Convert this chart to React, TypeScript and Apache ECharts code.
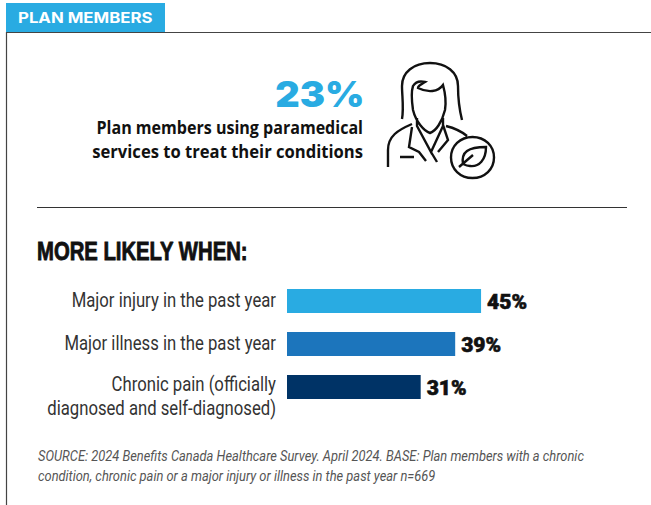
import React, { useEffect, useRef } from "react";
import * as echarts from "echarts";

const categories = [
  "Major injury in the past year",
  "Major illness in the past year",
  "Chronic pain (officially\ndiagnosed and self-diagnosed)",
];
const values = [45, 39, 31];
const barColors = ["#29abe2", "#1c75bc", "#003366"];
const tabLabel = "PLAN MEMBERS";
const headlineValue = "23%";
const headlineLines = ["Plan members using paramedical", "services to treat their conditions"];
const sectionHeading = "MORE LIKELY WHEN:";
const sourceLines = [
  "SOURCE: 2024 Benefits Canada Healthcare Survey. April 2024. BASE: Plan members with a chronic",
  "condition, chronic pain or a major injury or illness in the past year n=669",
];

// Outline icon of a health professional with a leaf badge
const personPath = [
  "M402 119 C404 108 402 96 402 86 C402 72 414 63 430 63 C446 63 458 72 458 86 C458 98 459 108 462 120",
  "M413 110 C412 103 411 92 413 86 C416 81 421 81 425 82 C420 85 418 86 418 88 C428 93 438 92 443 85 C446 96 446 104 445 110",
  "M413 110 C416 122 424 131 430 133 C436 131 442 122 445 110",
  "M417 118 L417 126 L431 152 L443 126 L443 118",
  "M412 124 C398 130 388 136 388 150 L388 167",
  "M412 127 L409 147 L419 152 L426 161",
  "M431 152 L437 162",
  "M443 125 L448 140 L438 152",
  "M446 126 C454 128 461 131 467 136",
  "M400 157 L414 157",
  "M451 157.5 C451 146 460 137 472.5 137 C485 137 494 146 494 157.5 C494 169 485 178 472.5 178 C460 178 451 169 451 157.5",
  "M463 164 C461 152 468 147 486 147 C486 160 479 167 470 166 C467 166 465 165 463 164",
  "M459 167 L473 155",
].join(" ");

echarts.graphic.registerShape("personIcon", echarts.graphic.extendPath(personPath, {}));

const GRID_TOP = 279.5;
const BAND = 43;

export default function App() {
  const ref = useRef<HTMLDivElement>(null);

  useEffect(() => {
    document.body.style.margin = "0";
    document.body.style.background = "#fff";
    const chart = echarts.init(ref.current!, undefined, { renderer: "svg" });

    // Category names are set as graphic texts so they can be narrowed horizontally
    const categoryTexts = categories.flatMap((label, i) => {
      const lines = label.split("\n");
      const centre = GRID_TOP + BAND * (i + 0.5);
      return lines.map((text, j) => ({
        type: "text",
        x: 276,
        y: lines.length > 1 ? centre - 3.5 + j * 24 : centre - 1.5,
        scaleX: 0.835,
        style: {
          text,
          align: "right",
          verticalAlign: "middle",
          fontFamily: "Roboto, sans-serif",
          fontSize: 20,
          fill: "#333333",
        },
      }));
    });

    chart.setOption({
      animation: false,
      backgroundColor: "#ffffff",
      grid: { left: 287, top: GRID_TOP, width: 345, height: BAND * categories.length },
      xAxis: { type: "value", min: 0, max: 80, show: false },
      yAxis: {
        type: "category",
        inverse: true,
        data: categories,
        axisLine: { show: false },
        axisTick: { show: false },
        axisLabel: { show: false },
      },
      series: [
        {
          type: "bar",
          barWidth: 24,
          data: values.map((value, i) => ({ value, itemStyle: { color: barColors[i] } })),
          label: {
            show: true,
            position: "right",
            distance: 6,
            offset: [0, 1],
            formatter: "{c}%",
            fontFamily: "Roboto, sans-serif",
            fontWeight: 900,
            fontSize: 21,
            color: "#111111",
            textBorderColor: "#111111",
            textBorderWidth: 0.6,
          },
        },
      ],
      graphic: [
        { type: "rect", shape: { x: 6, y: 3, width: 159, height: 29 }, style: { fill: "#29abe2" } },
        { type: "line", shape: { x1: 6, y1: 32.5, x2: 651, y2: 32.5 }, style: { stroke: "#444", lineWidth: 1.2 } },
        { type: "line", shape: { x1: 6.5, y1: 32, x2: 6.5, y2: 505 }, style: { stroke: "#444", lineWidth: 1.2 } },
        {
          type: "text",
          x: 18,
          y: 18,
          scaleX: 1.2,
          style: {
            text: tabLabel,
            fontFamily: "Inter, sans-serif",
            fontWeight: 700,
            fontSize: 14,
            fill: "#fff",
            verticalAlign: "middle",
          },
        },
        {
          type: "text",
          x: 364.5,
          y: 95,
          scaleX: 1.08,
          style: {
            text: headlineValue,
            align: "right",
            verticalAlign: "middle",
            fontFamily: "Inter, sans-serif",
            fontWeight: 900,
            fontSize: 35,
            fill: "#29abe2",
          },
        },
        ...headlineLines.map((text, i) => ({
          type: "text",
          x: 363,
          y: 127 + i * 24.5,
          scaleX: i === 0 ? 0.945 : 0.977,
          style: {
            text,
            align: "right",
            verticalAlign: "middle",
            fontFamily: '"Open Sans", sans-serif',
            fontWeight: 700,
            fontSize: 17,
            fill: "#111",
          },
        })),
        {
          type: "personIcon",
          x: 0,
          y: 0,
          style: { fill: "none", stroke: "#111", lineWidth: 2.4 },
        },
        { type: "line", shape: { x1: 37, y1: 207.5, x2: 627, y2: 207.5 }, style: { stroke: "#333", lineWidth: 1 } },
        {
          type: "text",
          x: 37,
          y: 251,
          scaleX: 0.78,
          style: {
            text: sectionHeading,
            verticalAlign: "middle",
            fontFamily: '"Liberation Sans", sans-serif',
            fontWeight: 700,
            fontSize: 26,
            fill: "#111",
            stroke: "#111",
            lineWidth: 0.9,
          },
        },
        ...categoryTexts,
        ...sourceLines.map((text, i) => ({
          type: "text",
          x: 38,
          y: 456 + i * 20,
          scaleX: 0.92,
          style: {
            text,
            verticalAlign: "middle",
            fontFamily: "Roboto, sans-serif",
            fontStyle: "italic",
            fontSize: 14,
            fill: "#555",
          },
        })),
      ],
    });
    return () => chart.dispose();
  }, []);

  return <div ref={ref} style={{ width: 651, height: 505 }} />;
}
